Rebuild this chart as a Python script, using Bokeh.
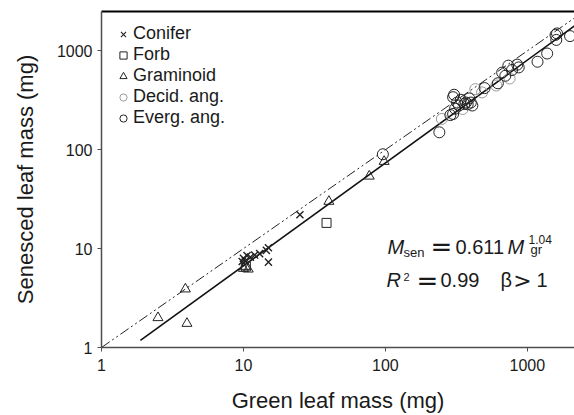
from bokeh.plotting import figure
from bokeh.models import Range1d, FixedTicker, NumeralTickFormatter, LogAxis, Label, Legend, LegendItem
from bokeh.embed import file_html
from bokeh.resources import INLINE
import math

# ---------------- data ----------------
conifer_x = [9.8, 10.0, 10.3, 10.6, 11.2, 12.0, 13.0, 14.5, 15.0, 15.0, 25.0]
conifer_y = [7.4, 8.0, 7.5, 8.5, 8.2, 8.6, 8.9, 9.6, 10.2, 7.3, 22.0]

forb_x = [10.4, 38.5]
forb_y = [6.6, 18.2]

graminoid_x = [2.5, 3.9, 4.0, 10.0, 10.3, 10.8, 40.0, 77.0, 98.0]
graminoid_y = [2.0, 3.9, 1.75, 6.3, 6.6, 6.2, 30.0, 54.0, 76.0]

decid_x = [250, 350, 430, 480, 605, 750]
decid_y = [205, 258, 410, 380, 446, 525]

everg_x = [96, 240, 287, 300, 310, 300, 305, 320, 330, 340, 360, 370, 380, 390, 400, 410,
           500, 620, 665, 700, 735, 780, 850, 870, 1180, 1380, 1580, 1600, 1620, 2000]
everg_y = [90, 150, 224, 230, 260, 340, 360, 300, 280, 320, 290, 300, 288, 330, 300, 280,
           420, 470, 603, 560, 708, 640, 725, 680, 776, 940, 1450, 1290, 1500, 1410]

fit_a = 0.611
fit_b = 1.04
fit_x = [1.88, 2150]
fit_y = [fit_a * v ** fit_b for v in fit_x]

one_x = [1, 2150]
one_y = [1, 2150]

tick_vals = [1, 10, 100, 1000]

X_MIN, X_MAX = 1, 2150
Y_MIN, Y_MAX = 1, 2500

FONT = "Liberation Sans"
TXT = "#1a1a1a"
DARK = "#222222"
GRAY = "#9a9a9a"
NAN = [float("nan")]

W, H = 574, 415
LEFT, TOP, BOTTOM = 101, 11, 67
FW, FH = W - LEFT, H - TOP - BOTTOM

p = figure(width=W, height=H, x_axis_type="log", y_axis_type="log",
           x_range=Range1d(X_MIN, X_MAX), y_range=Range1d(Y_MIN, Y_MAX),
           output_backend="svg", toolbar_location=None,
           min_border_left=LEFT, min_border_right=0, min_border_top=TOP, min_border_bottom=BOTTOM)
p.outline_line_color = None
p.grid.visible = False
p.background_fill_color = "white"
p.border_fill_color = "white"

for ax in (p.xaxis[0], p.yaxis[0]):
    ax.ticker = FixedTicker(ticks=tick_vals, minor_ticks=[])
    ax.formatter = NumeralTickFormatter(format="0")
    ax.axis_line_color = "#4d4d4d"
    ax.axis_line_width = 1.5
    ax.major_tick_line_color = "#4d4d4d"
    ax.major_tick_line_width = 1
    ax.major_tick_out = 4
    ax.major_tick_in = 0
    ax.minor_tick_line_color = None
    ax.major_label_text_font = FONT
    ax.major_label_text_font_size = "16px"
    ax.major_label_text_color = TXT
    ax.axis_label_text_font = FONT
    ax.axis_label_text_font_size = "22px"
    ax.axis_label_text_font_style = "normal"
    ax.axis_label_text_color = TXT

p.xaxis.axis_label = "Green leaf mass (mg)"
p.yaxis.axis_label = "Senesced leaf mass (mg)"
p.xaxis.major_label_standoff = 7
p.yaxis.major_label_standoff = 5
p.xaxis.axis_label_standoff = 14
p.yaxis.axis_label_standoff = 16

top_axis = LogAxis(ticker=FixedTicker(ticks=[]), axis_line_color="black", axis_line_width=2,
                   major_tick_line_color=None, minor_tick_line_color=None,
                   major_label_text_font_size="0px")
p.add_layout(top_axis, "above")

# lines
p.line(one_x, one_y, line_color=DARK, line_width=1, line_dash="10 3 2 3 2 3")
p.line(fit_x, fit_y, line_color="#111111", line_width=1.6)

# points
p.scatter(conifer_x, conifer_y, marker="x", size=10, line_color=DARK, line_width=1.4)
p.scatter(forb_x, forb_y, marker="square", size=9, fill_color=None, line_color=DARK, line_width=1)
p.scatter(graminoid_x, graminoid_y, marker="triangle", size=10, fill_color=None, line_color=DARK, line_width=1)
p.scatter(decid_x, decid_y, marker="circle", size=11, fill_color=None, line_color=GRAY, line_width=1)
p.scatter(everg_x, everg_y, marker="circle", size=11, fill_color=None, line_color=DARK, line_width=1)

# legend keys (no visible points)
k_con = p.scatter(NAN, NAN, marker="x", size=7, line_color=DARK, line_width=1.1)
k_forb = p.scatter(NAN, NAN, marker="square", size=7, fill_color=None, line_color=DARK, line_width=1)
k_gram = p.scatter(NAN, NAN, marker="triangle", size=8, fill_color=None, line_color=DARK, line_width=1)
k_dec = p.scatter(NAN, NAN, marker="circle", size=8, fill_color=None, line_color=GRAY, line_width=1)
k_ev = p.scatter(NAN, NAN, marker="circle", size=8, fill_color=None, line_color=DARK, line_width=1)

legend = Legend(items=[
    LegendItem(label="Conifer", renderers=[k_con]),
    LegendItem(label="Forb", renderers=[k_forb]),
    LegendItem(label="Graminoid", renderers=[k_gram]),
    LegendItem(label="Decid. ang.", renderers=[k_dec]),
    LegendItem(label="Everg. ang.", renderers=[k_ev]),
], location=(13, 219))
legend.background_fill_alpha = 0
legend.border_line_color = None
legend.margin = 0
legend.padding = 12
legend.glyph_width = 18
legend.glyph_height = 18
legend.label_height = 18
legend.spacing = 0
legend.label_standoff = 1
legend.label_text_font = FONT
legend.label_text_font_size = "18px"
legend.label_text_color = TXT
p.add_layout(legend, "center")

# equation annotation, placed by frame pixel position (y = vertical centre)
def px_x(px):
    return 10 ** (math.log10(X_MIN) + (px - LEFT) / FW * (math.log10(X_MAX) - math.log10(X_MIN)))

def px_y(py):
    return 10 ** (math.log10(Y_MIN) + (TOP + FH - py) / FH * (math.log10(Y_MAX) - math.log10(Y_MIN)))

parts = [
    # text, x px, centre px, size, style, align, font
    ("M", 387, 247.5, 20, "italic", "left", FONT),
    ("sen", 403, 253, 13, "normal", "left", FONT),
    ("=", 441, 247.5, 26, "normal", "center", "DejaVu Sans"),
    ("0.611", 455, 247.5, 20, "normal", "left", FONT),
    ("M", 507, 247.5, 20, "italic", "left", FONT),
    ("1.04", 528, 239.5, 12, "normal", "left", FONT),
    ("gr", 530, 250, 13, "normal", "left", FONT),
    ("R", 386, 280.5, 20, "italic", "left", FONT),
    ("2", 403, 277, 11, "normal", "left", FONT),
    ("=", 427, 281.5, 26, "normal", "center", "DejaVu Sans"),
    ("0.99", 440, 280.5, 20, "normal", "left", FONT),
    ("\u03b2", 500, 280.5, 20, "normal", "left", FONT),
    (">", 522, 281, 22, "normal", "center", "DejaVu Sans"),
    ("1", 536, 280.5, 20, "normal", "left", FONT),
]
for t, px, py, fs, st, al, fnt in parts:
    p.add_layout(Label(x=px_x(px), y=px_y(py), text=t, text_font=fnt, text_font_size=f"{fs}px",
                       text_font_style=st, text_color=TXT, text_baseline="middle", text_align=al))

open("out.html", "w").write(file_html(p, INLINE))
